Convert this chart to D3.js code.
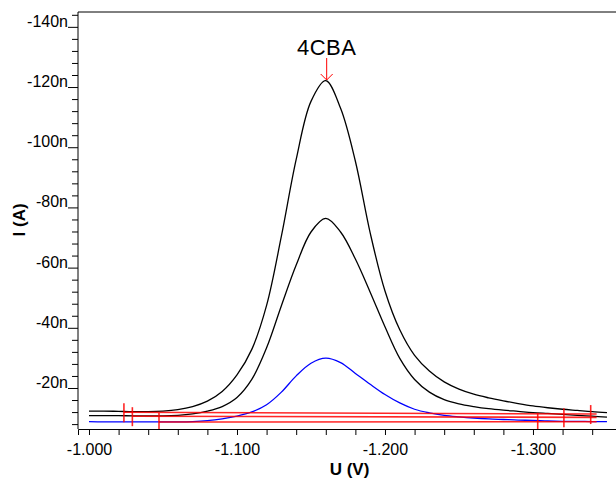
<!DOCTYPE html>
<html>
<head>
<meta charset="utf-8">
<script src="https://cdn.jsdelivr.net/npm/d3@7"></script>
<style>
  body { margin: 0; background: #fff; }
  text { font-family: Arial, "Liberation Sans", sans-serif; }
</style>
</head>
<body>
<div id="chart"></div>
<script>
// potentials (V)
const potentials = [-1.00, -1.01, -1.02, -1.03, -1.04, -1.05, -1.06, -1.07, -1.08, -1.09,
  -1.10, -1.11, -1.12, -1.13, -1.14, -1.15, -1.16, -1.17, -1.18, -1.19,
  -1.20, -1.21, -1.22, -1.23, -1.24, -1.25, -1.26, -1.27, -1.28, -1.29,
  -1.30, -1.31, -1.32, -1.33, -1.34, -1.35]

// currents (nA)
const currentHigh = [-12.5, -12.5, -12.4, -12.3, -12.3, -12.5, -13.0, -14.0, -15.8, -19.0,
  -24.5, -33.0, -47.6, -70.6, -96.1, -115.4, -122.3, -113.1, -95.5, -71.7,
  -52.4, -39.5, -31.0, -25.8, -22.2, -19.8, -18.1, -16.9, -15.9, -15.0,
  -14.2, -13.6, -13.1, -12.7, -12.3, -12.0]
const currentMid = [-11.0, -11.0, -11.0, -10.9, -10.9, -10.9, -11.1, -11.6, -12.5, -14.0,
  -17.0, -23.0, -33.5, -47.5, -61.0, -72.0, -76.5, -72.0, -63.0, -52.0,
  -40.5, -30.0, -23.0, -18.8, -16.3, -14.9, -14.0, -13.3, -12.8, -12.4,
  -12.0, -11.7, -11.4, -11.1, -10.8, -10.5]
const currentLow = [-9.0, -8.9, -8.9, -8.9, -8.9, -8.9, -8.9, -9.0, -9.3, -9.9,
  -10.8, -12.2, -14.6, -18.8, -24.2, -28.4, -30.1, -28.6, -25.0, -21.4,
  -18.0, -15.2, -13.1, -11.9, -11.1, -10.6, -10.2, -9.9, -9.7, -9.5,
  -9.4, -9.2, -9.1, -9.1, -9.0, -9.0]

// baselines: start point, fit end potential, line end
const baseStartV = [-1.0236, -1.0293, -1.0473]
const baseStartI = [-12.1, -10.8, -8.85]
const baseFitV = [-1.339, -1.3209, -1.3032]
const baseEndV = [-1.343, -1.343, -1.343]
const baseEndI = [-11.5, -10.4, -8.95]

const peakLabel = "4CBA"
const peakV = -1.1606
const peakI = -122.5

const xTicks = [-1.0, -1.1, -1.2, -1.3]
const yTicks = [-140, -120, -100, -80, -60, -40, -20]

const margin = {top: 12, right: 0, bottom: 52, left: 78}
const W = 616, H = 481
const width = W - margin.left - margin.right,
  height = H - margin.top - margin.bottom

const svg = d3.select("#chart").append("svg")
  .attr("width", W)
  .attr("height", H)
  .append("g")
  .attr("transform", "translate(" + margin.left + "," + margin.top + ")")

const xScale = d3.scaleLinear()
  .domain([-0.99257, -1.3561])
  .range([0, width])

const yScale = d3.scaleLinear()
  .domain([-6.54, -145.1])
  .range([height, 0])

const hyphen = s => s.replace("\u2212", "-")

// frame top line
svg.append("line")
  .attr("x1", 0).attr("x2", width)
  .attr("y1", 0).attr("y2", 0)
  .attr("stroke", "#000")

// x axis
const xMinor = d3.range(-1.0, -1.3561, -0.02)
const xAxis = d3.axisBottom(xScale)
  .tickValues(xMinor)
  .tickSize(6)
  .tickFormat(d => xTicks.some(t => Math.abs(t - d) < 1e-6) ? hyphen(d3.format(".3f")(d)) : "")

const gx = svg.append("g")
  .attr("class", "axis x-axis")
  .attr("transform", `translate(0, ${height})`)
  .call(xAxis)
gx.select(".domain").attr("stroke", "#000")
gx.selectAll("text")
  .attr("font-size", "16px")
  .attr("fill", "#000")
  .attr("dy", "1.05em")

// y axis
const yMinor = d3.range(-8, -145, -4)
const gy = svg.append("g").attr("class", "axis y-axis")
gy.append("line")
  .attr("x1", 0).attr("x2", 0)
  .attr("y1", 0).attr("y2", height)
  .attr("stroke", "#000")
gy.selectAll(".tick")
  .data(yMinor)
  .enter().append("line")
  .attr("x1", d => yTicks.includes(d) ? -10 : -6)
  .attr("x2", 0)
  .attr("y1", d => yScale(d))
  .attr("y2", d => yScale(d))
  .attr("stroke", "#000")
gy.selectAll(".ylab")
  .data(yTicks)
  .enter().append("text")
  .attr("x", -10)
  .attr("y", d => yScale(d) - 0.5)
  .attr("text-anchor", "end")
  .attr("font-size", "16px")
  .text(d => d + "n")

// axis titles
svg.append("text")
  .attr("x", xScale(-1.176))
  .attr("y", height + 46)
  .attr("text-anchor", "middle")
  .attr("font-size", "17px")
  .attr("font-weight", "bold")
  .text("U (V)")

svg.append("text")
  .attr("transform", `translate(${-53}, ${yScale(-76)}) rotate(-90)`)
  .attr("text-anchor", "middle")
  .attr("font-size", "17px")
  .attr("font-weight", "bold")
  .text("I (A)")

// curves
const line = d3.line()
  .x(d => xScale(d[0]))
  .y(d => yScale(d[1]))
  .curve(d3.curveCatmullRom.alpha(0.5))

const series = [
  {values: currentHigh, color: "#000"},
  {values: currentMid, color: "#000"},
  {values: currentLow, color: "#0000ff"}
]

svg.selectAll(".curve")
  .data(series)
  .enter().append("path")
  .attr("class", "curve")
  .attr("d", s => line(potentials.map((v, i) => [v, s.values[i]])))
  .attr("fill", "none")
  .attr("stroke", s => s.color)
  .attr("stroke-width", 1.3)

// baselines
baseStartV.forEach((v, i) => {
  const slope = (baseEndI[i] - baseStartI[i]) / (baseEndV[i] - v)
  const fitI = baseStartI[i] + slope * (baseFitV[i] - v)
  svg.append("line")
    .attr("x1", xScale(v)).attr("x2", xScale(baseEndV[i]))
    .attr("y1", yScale(baseStartI[i])).attr("y2", yScale(baseEndI[i]))
    .attr("stroke", "#ff0000")
    .attr("stroke-opacity", 0.85)
    .attr("stroke-width", 1.6)
  const marks = [[v, baseStartI[i]], [baseFitV[i], fitI]]
  svg.selectAll(null)
    .data(marks)
    .enter().append("line")
    .attr("x1", d => xScale(d[0])).attr("x2", d => xScale(d[0]))
    .attr("y1", d => yScale(d[1]) - 9).attr("y2", d => Math.min(yScale(d[1]) + 10, height))
    .attr("stroke", "#ff0000")
    .attr("stroke-opacity", 0.85)
    .attr("stroke-width", 1.6)
})

// peak marker
const px = xScale(peakV), py = yScale(peakI)
svg.append("line")
  .attr("x1", px).attr("x2", px)
  .attr("y1", py - 22).attr("y2", py)
  .attr("stroke", "red")
svg.append("path")
  .attr("d", `M${px - 6},${py - 6}L${px},${py}L${px + 6},${py - 6}`)
  .attr("fill", "none")
  .attr("stroke", "red")
svg.append("text")
  .attr("x", px)
  .attr("y", py - 25)
  .attr("text-anchor", "middle")
  .attr("font-size", "22px")
  .attr("letter-spacing", "0.5px")
  .text(peakLabel)
</script>
</body>
</html>
